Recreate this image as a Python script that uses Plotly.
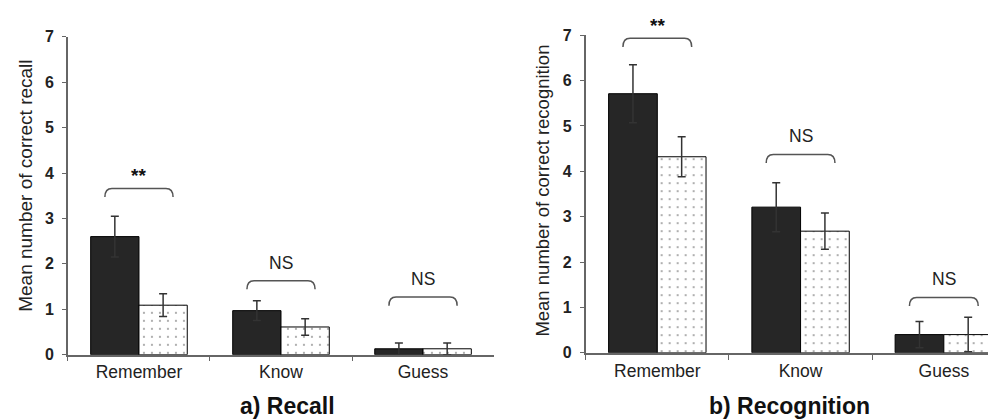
import plotly.graph_objects as go

categories = ["Remember", "Know", "Guess"]

# a) Recall
recall_dark = [2.60, 0.97, 0.13]
recall_dark_err = [0.45, 0.22, 0.13]
recall_dot = [1.09, 0.61, 0.13]
recall_dot_err = [0.25, 0.18, 0.13]
recall_bracket = [3.66, 1.63, 1.27]
recall_sig = ["**", "NS", "NS"]

# b) Recognition
recog_dark = [5.71, 3.21, 0.40]
recog_dark_err = [0.64, 0.54, 0.29]
recog_dot = [4.32, 2.68, 0.40]
recog_dot_err = [0.44, 0.40, 0.38]
recog_bracket = [6.93, 4.37, 1.22]
recog_sig = ["**", "NS", "NS"]

y_ticks = [0, 1, 2, 3, 4, 5, 6, 7]
Y_MAX = 7

FONT = "Liberation Sans, Arial, sans-serif"
DARK = "#262626"
AXIS = "#666666"

fig = go.Figure()


def add_panel(dark, dark_err, dot, dot_err, xa, ya):
    fig.add_trace(go.Bar(
        x=categories, y=dark, xaxis=xa, yaxis=ya,
        marker=dict(color=DARK, line=dict(color="#000000", width=1)),
        error_y=dict(type="data", array=dark_err, color="#333333", thickness=1.5, width=4),
        showlegend=False,
    ))
    fig.add_trace(go.Bar(
        x=categories, y=dot, xaxis=xa, yaxis=ya,
        marker=dict(color="white", line=dict(color="#000000", width=1),
                    pattern=dict(shape=".", fgcolor="#3a3a3a", bgcolor="white",
                                 size=8, solidity=0.06)),
        error_y=dict(type="data", array=dot_err, color="#333333", thickness=1.5, width=4),
        showlegend=False,
    ))


add_panel(recall_dark, recall_dark_err, recall_dot, recall_dot_err, "x", "y")
add_panel(recog_dark, recog_dark_err, recog_dot, recog_dot_err, "x2", "y2")

shapes = []
annotations = []


def add_brackets(levels, sigs, xref, yref):
    h = 0.24
    r = 0.05
    d = 0.19
    for i, (lv, s) in enumerate(zip(levels, sigs)):
        path = (f"M {i - h},{lv - d} Q {i - h},{lv} {i - h + r},{lv} "
                f"L {i + h - r},{lv} Q {i + h},{lv} {i + h},{lv - d}")
        shapes.append(dict(type="path", path=path, xref=xref, yref=yref,
                           line=dict(color="#555555", width=1.5)))
        if s == "**":
            annotations.append(dict(x=i, y=(lv + 0.28) / Y_MAX, xref=xref, yref=yref + " domain",
                                    text="<b>**</b>", showarrow=False, xanchor="center", yanchor="middle",
                                    font=dict(size=19, color="#111111", family=FONT)))
        else:
            annotations.append(dict(x=i, y=(lv + 0.40) / Y_MAX, xref=xref, yref=yref + " domain",
                                    text=s, showarrow=False, xanchor="center", yanchor="middle",
                                    font=dict(size=17.5, color="#222222", family=FONT)))


add_brackets(recall_bracket, recall_sig, "x", "y")
add_brackets(recog_bracket, recog_sig, "x2", "y2")

annotations += [
    dict(x=0.281, y=1 - 406 / 419, xref="paper", yref="paper", text="<b>a) Recall</b>", showarrow=False,
         xanchor="center", yanchor="middle", font=dict(size=23, color="#111111", family=FONT)),
    dict(x=0.785, y=1 - 406 / 419, xref="paper", yref="paper", text="<b>b) Recognition</b>", showarrow=False,
         xanchor="center", yanchor="middle", font=dict(size=23, color="#111111", family=FONT)),
    dict(x=18 / 996, y=1 - 177 / 419, xref="paper", yref="paper", text="Mean number of correct recall",
         textangle=-90, showarrow=False, xanchor="center", yanchor="middle",
         font=dict(size=19, color="#222222", family=FONT)),
    dict(x=535 / 996, y=1 - 182 / 419, xref="paper", yref="paper", text="Mean number of correct recognition",
         textangle=-90, showarrow=False, xanchor="center", yanchor="middle",
         font=dict(size=18.5, color="#222222", family=FONT)),
]

xcommon = dict(type="category", showline=True, linecolor=AXIS, linewidth=1.5,
               ticks="outside", ticklen=5, tickcolor=AXIS, tickson="boundaries",
               showgrid=False, zeroline=False, ticklabelstandoff=1,
               tickfont=dict(size=17.5, color="#222222", family=FONT))
ycommon = dict(range=[0, Y_MAX], tickvals=y_ticks, showline=True, linecolor=AXIS, linewidth=1.5,
               ticks="outside", ticklen=4, tickcolor=AXIS, showgrid=False, zeroline=False,
               tickfont=dict(size=16, color="#222222", family=FONT, weight="bold"),
               ticklabelstandoff=5)

fig.update_layout(
    width=996, height=419,
    margin=dict(l=0, r=0, t=0, b=0),
    paper_bgcolor="white", plot_bgcolor="white",
    barmode="group", bargap=0.32, bargroupgap=0,
    xaxis=dict(domain=[0.0602, 0.488], range=[-0.5, 2.5], anchor="y", **xcommon),
    yaxis=dict(domain=[0.1575, 0.9482], anchor="x", **ycommon),
    xaxis2=dict(domain=[0.580, 1.0], range=[-0.5, 2.42], anchor="y2", **xcommon),
    yaxis2=dict(domain=[0.1623, 0.9523], anchor="x2", **ycommon),
    shapes=shapes,
    annotations=annotations,
    font=dict(family=FONT),
)

fig.write_html("out.html")
